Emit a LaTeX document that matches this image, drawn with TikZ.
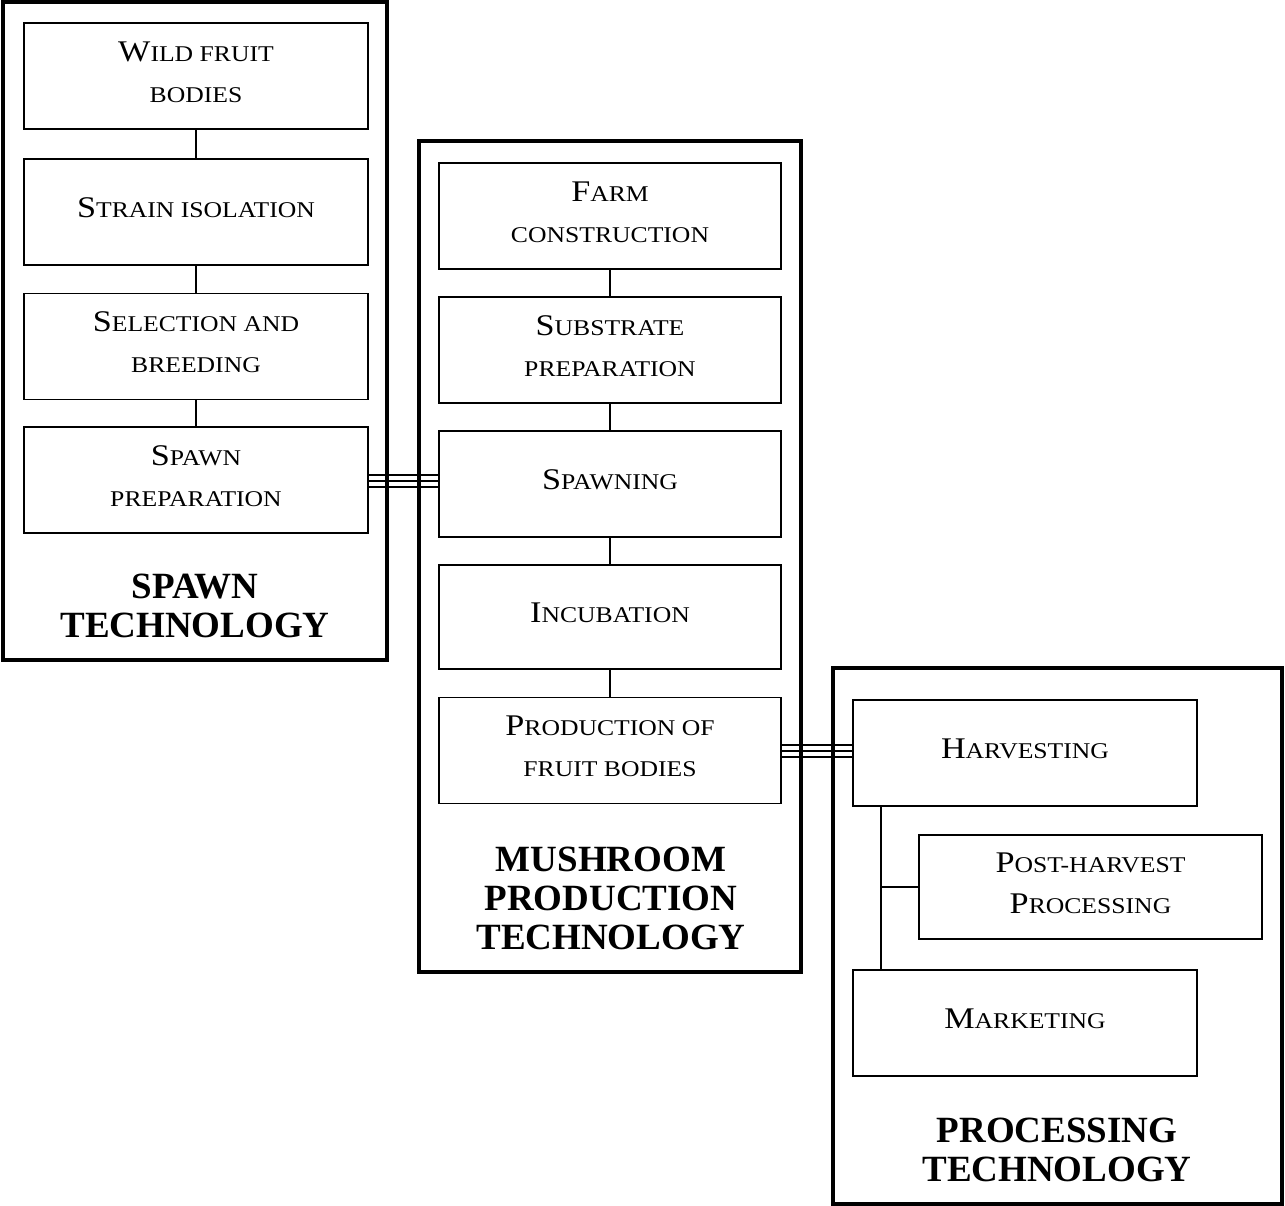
\documentclass[tikz,border=0pt]{standalone}
\usepackage{fontspec}
\setmainfont{Liberation Serif}
\newfontfamily\scfam[FakeStretch=1.14]{Liberation Serif}
\newcommand\scbody{\scfam\fontsize{22.5}{41}\selectfont}
\newcommand\bc[1]{{\fontsize{30}{41}\selectfont #1}}
\begin{document}
\begin{tikzpicture}[x=1pt,y=-1pt,
  box/.style={draw, line width=1.8pt, inner sep=0pt, minimum width=344pt, minimum height=106pt, align=center, font=\scbody, text depth=8pt},
  panel/.style={draw, line width=3.5pt, inner sep=0pt},
  title/.style={font=\bfseries\fontsize{37}{39}\selectfont, align=center},
  link/.style={line width=1.8pt}]
\fill[white] (0,0) rectangle (1285,1206);
\useasboundingbox (0,0) rectangle (1285,1206);

% panels
\node[panel, minimum width=384pt, minimum height=658pt] (p1) at (195,331) {};
\node[panel, minimum width=382pt, minimum height=831pt] (p2) at (610,556.5) {};
\node[panel, minimum width=449pt, minimum height=536pt] (p3) at (1057.5,936) {};

% spawn technology
\node[box] (wild) at (196,76) {\bc{W}ILD FRUIT\\BODIES};
\node[box] (strain) at (196,212) {\bc{S}TRAIN ISOLATION};
\node[box] (sel) at (196,346.5) {\bc{S}ELECTION AND\\BREEDING};
\node[box] (sp) at (196,480) {\bc{S}PAWN\\PREPARATION};
\node[title] (t1) at (195,606) {SPAWN\\TECHNOLOGY};

% mushroom production technology
\node[box, minimum width=342pt] (farm) at (610,216) {\bc{F}ARM\\CONSTRUCTION};
\node[box, minimum width=342pt] (sub) at (610,350) {\bc{S}UBSTRATE\\PREPARATION};
\node[box, minimum width=342pt] (spg) at (610,484) {\bc{S}PAWNING};
\node[box, minimum width=342pt, minimum height=104pt] (inc) at (610,617) {\bc{I}NCUBATION};
\node[box, minimum width=342pt] (prod) at (610,750.5) {\bc{P}RODUCTION OF\\FRUIT BODIES};
\node[title] (t2) at (611,898) {MUSHROOM\\PRODUCTION\\TECHNOLOGY};

% processing technology
\node[box] (harv) at (1025,753) {\bc{H}ARVESTING};
\node[box, minimum width=343pt, minimum height=104pt] (post) at (1090.5,887) {\bc{P}OST-HARVEST\\\bc{P}ROCESSING};
\node[box] (mark) at (1025,1023) {\bc{M}ARKETING};
\node[title] (t3) at (1057,1150) {PROCESSING\\TECHNOLOGY};

% chain connectors
\draw[link] (wild.south) -- (strain.north);
\draw[link] (strain.south) -- (sel.north);
\draw[link] (sel.south) -- (sp.north);
\draw[link] (farm.south) -- (sub.north);
\draw[link] (sub.south) -- (spg.north);
\draw[link] (spg.south) -- (inc.north);
\draw[link] (inc.south) -- (prod.north);

% triple links
\coordinate (c1) at (sp.east |- 0,481);
\coordinate (c1b) at (spg.west |- 0,481);
\foreach \d/\w in {-6/1.3pt, 0/2.8pt, 6/1.3pt}
  \draw[line width=\w] ([yshift=\d pt]c1) -- ([yshift=\d pt]c1b);
\coordinate (c2) at (prod.east |- 0,751);
\coordinate (c2b) at (harv.west |- 0,751);
\foreach \d/\w in {-6/1.3pt, 0/2.8pt, 6/1.3pt}
  \draw[line width=\w] ([yshift=\d pt]c2) -- ([yshift=\d pt]c2b);

% processing branch
\coordinate (b0) at ([xshift=29pt]harv.south west);
\coordinate (b1) at ([xshift=29pt]mark.north west);
\draw[link] (b0) -- (b1);
\draw[link] (b0 |- post.west) -- (post.west);
\end{tikzpicture}
\end{document}
